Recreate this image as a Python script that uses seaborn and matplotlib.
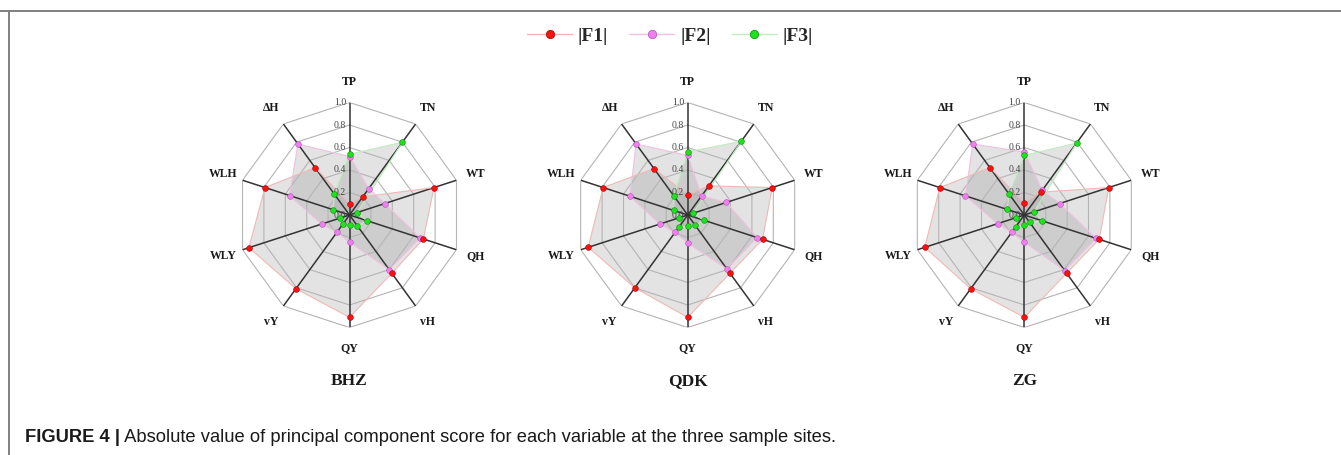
import numpy as np
import pandas as pd
import matplotlib
matplotlib.use("Agg")
import matplotlib.pyplot as plt
import matplotlib.transforms as mtransforms
from matplotlib.lines import Line2D
import seaborn as sns

# ---------------- data ----------------
categories = ["TP", "TN", "WT", "QH", "vH", "QY", "vY", "WLY", "WLH", "ΔH"]
sites = ["BHZ", "QDK", "ZG"]
components = ["|F1|", "|F2|", "|F3|"]

bhz_f1 = [0.10, 0.20, 0.79, 0.69, 0.64, 0.91, 0.81, 0.94, 0.79, 0.52]
bhz_f2 = [0.52, 0.29, 0.33, 0.66, 0.60, 0.24, 0.19, 0.26, 0.56, 0.78]
bhz_f3 = [0.54, 0.80, 0.07, 0.16, 0.12, 0.09, 0.10, 0.09, 0.15, 0.23]

qdk_f1 = [0.18, 0.32, 0.79, 0.70, 0.64, 0.91, 0.80, 0.93, 0.79, 0.51]
qdk_f2 = [0.53, 0.21, 0.36, 0.65, 0.59, 0.25, 0.19, 0.26, 0.54, 0.78]
qdk_f3 = [0.56, 0.81, 0.05, 0.15, 0.11, 0.10, 0.13, 0.08, 0.13, 0.21]

zg_f1 = [0.11, 0.25, 0.79, 0.70, 0.64, 0.91, 0.81, 0.93, 0.79, 0.52]
zg_f2 = [0.56, 0.27, 0.33, 0.67, 0.61, 0.24, 0.19, 0.25, 0.55, 0.78]
zg_f3 = [0.53, 0.79, 0.09, 0.17, 0.08, 0.09, 0.13, 0.08, 0.16, 0.23]

radial_ticks = [0.0, 0.2, 0.4, 0.6, 0.8, 1.0]
caption_bold = "FIGURE 4 |"
caption_text = " Absolute value of principal component score for each variable at the three sample sites."

site_data = {
    "BHZ": [bhz_f1, bhz_f2, bhz_f3],
    "QDK": [qdk_f1, qdk_f2, qdk_f3],
    "ZG": [zg_f1, zg_f2, zg_f3],
}

# ---------------- style ----------------
sns.set_theme(style="white")
plt.rcParams["font.family"] = ["Liberation Serif", "DejaVu Serif"]

W, H = 1341, 455
fig = plt.figure(figsize=(W / 100, H / 100), dpi=100)
fig.patch.set_facecolor("white")

marker_colors = {"|F1|": "#ff1010", "|F2|": "#f080f0", "|F3|": "#20e020"}
edge_colors = {"|F1|": "#a00000", "|F2|": "#b050b0", "|F3|": "#009000"}
line_colors = {"|F1|": "#f0b8b8", "|F2|": "#f0c0e0", "|F3|": "#c0ecc0"}
draw_order = ["|F2|", "|F1|", "|F3|"]

n = len(categories)
angles = np.arange(n) * 2 * np.pi / n
angles_closed = np.append(angles, angles[0])

centers = [(349.5, 215.0), (687.7, 215.0), (1024.3, 215.0)]
R = 112.5

for site, (cx, cy) in zip(sites, centers):
    ax = fig.add_axes([(cx - R) / W, (H - cy - R) / H, 2 * R / W, 2 * R / H],
                      projection="polar")
    ax.set_theta_zero_location("N")
    ax.set_theta_direction(-1)
    ax.set_ylim(0, 1)
    ax.grid(False)
    ax.spines["polar"].set_visible(False)
    ax.set_xticks([])
    ax.set_yticks([])
    ax.patch.set_alpha(0)

    rows = []
    for comp, vals in zip(components, site_data[site]):
        for a, c, v in zip(angles, categories, vals):
            rows.append({"theta": a, "r": v, "component": comp, "category": c})
    df = pd.DataFrame(rows)

    # filled polygons
    for comp, vals in zip(components, site_data[site]):
        v_closed = np.append(vals, vals[0])
        ax.fill(angles_closed, v_closed, color="#808080", alpha=0.22, lw=0, zorder=1)

    # decagon rings & spokes
    for rr in radial_ticks[1:]:
        ax.plot(angles_closed, [rr] * (n + 1), color="#b4b4b4", lw=0.8, zorder=2)
    for a in angles:
        ax.plot([a, a], [0, 1], color="#333333", lw=1.1, zorder=2)

    # polygon edges
    for comp, vals in zip(components, site_data[site]):
        v_closed = np.append(vals, vals[0])
        ax.plot(angles_closed, v_closed, color=line_colors[comp], lw=0.8, zorder=3)

    # markers
    for k, comp in enumerate(draw_order):
        sub = df[df["component"] == comp]
        sns.scatterplot(data=sub, x="theta", y="r", color=marker_colors[comp],
                        edgecolor=edge_colors[comp], linewidth=0.4, s=17,
                        ax=ax, legend=False, zorder=5 + k)
    ax.set_xlabel("")
    ax.set_ylabel("")

    # radial tick labels
    off = mtransforms.offset_copy(ax.transData, fig=fig, x=-2.5, y=0, units="points")
    for rr in radial_ticks:
        ax.text(0, rr, f"{rr:.1f}", ha="right", va="center", fontsize=7,
                color="#444444", transform=off, zorder=4)

    # category labels
    for a, c in zip(angles, categories):
        ax.text(a, 1.18, c, ha="center", va="center", fontsize=8.5,
                fontweight="bold", color="#1a1a1a")

    fig.text(cx / W, 1 - 381 / H, site, ha="center", va="center",
             fontsize=12.5, fontweight="bold", color="#1a1a1a")

# legend
handles = [Line2D([0], [0], color=line_colors[c], lw=1.0, marker="o",
                  markersize=6, markerfacecolor=marker_colors[c],
                  markeredgecolor=edge_colors[c], markeredgewidth=0.5)
           for c in components]
fig.legend(handles, components, loc="center", bbox_to_anchor=(670 / W, 1 - 36 / H),
           ncol=3, frameon=False, prop={"family": "Liberation Serif",
                                         "weight": "bold", "size": 14},
           handlelength=2.3, columnspacing=1.1, handletextpad=0.3)

# frame lines
fig.add_artist(Line2D([0, 1], [1 - 11 / H, 1 - 11 / H], transform=fig.transFigure,
                      color="#808080", lw=1.4))
fig.add_artist(Line2D([9 / W, 9 / W], [0, 1 - 11 / H], transform=fig.transFigure,
                      color="#808080", lw=1.4))

# caption
t1 = fig.text(25 / W, 1 - 437 / H, caption_bold, ha="left", va="center",
              fontsize=13.2, fontweight="bold", family="Liberation Sans",
              color="#1a1a1a")
fig.canvas.draw()
bb = t1.get_window_extent()
fig.text(bb.x1 / W, 1 - 437 / H, caption_text, ha="left", va="center",
         fontsize=13.2, family="Liberation Sans", color="#1a1a1a")

fig.savefig("out.png", dpi=100, facecolor="white")
